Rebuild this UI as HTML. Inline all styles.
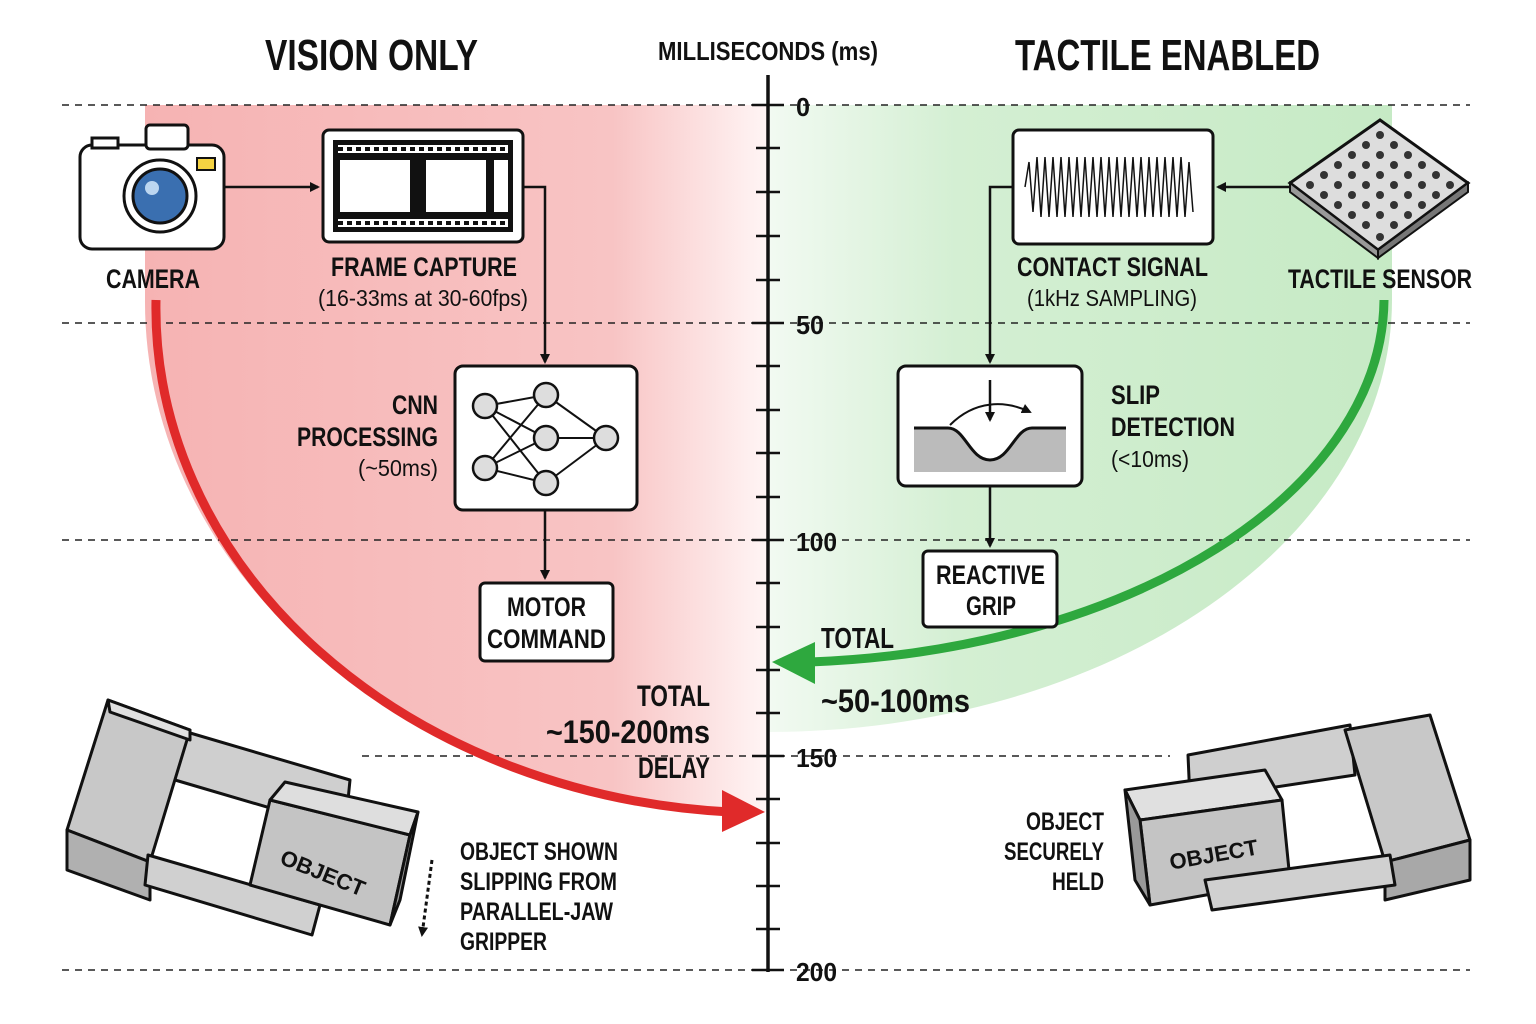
<!DOCTYPE html>
<html><head><meta charset="utf-8"><style>
body{margin:0;background:#fff}
svg{display:block}
text{font-family:"Liberation Sans",sans-serif;font-weight:bold;fill:#111}
.n{font-weight:normal}
</style></head><body>
<svg width="1536" height="1024" viewBox="0 0 1536 1024" xmlns="http://www.w3.org/2000/svg">
<defs>
<linearGradient id="rg" x1="0" x2="1"><stop offset="0" stop-color="#f6b3b3"/><stop offset="0.75" stop-color="#f8c4c4"/><stop offset="1" stop-color="#fff5f5"/></linearGradient>
<linearGradient id="gg" x1="0" x2="1"><stop offset="0" stop-color="#f2faf2"/><stop offset="0.3" stop-color="#d4efd3"/><stop offset="1" stop-color="#c6eac5"/></linearGradient>
<marker id="ah" markerWidth="10" markerHeight="10" refX="8" refY="5" orient="auto" markerUnits="userSpaceOnUse"><path d="M0,0 L10,5 L0,10z" fill="#111"/></marker>
</defs>
<path d="M145,105 H768 V812 A623,510 0 0 1 145,300 Z" fill="url(#rg)"/>
<path d="M768,105 H1392 V300 A624,432 0 0 1 768,732 Z" fill="url(#gg)"/>
<g stroke="#222" stroke-width="1.5" stroke-dasharray="7,6">
<line x1="62" y1="105" x2="1470" y2="105"/>
<line x1="62" y1="323" x2="1470" y2="323"/>
<line x1="62" y1="540" x2="1470" y2="540"/>
<line x1="362" y1="756" x2="1170" y2="756"/>
<line x1="62" y1="970" x2="1470" y2="970"/>
</g>
<line x1="768" y1="75" x2="768" y2="972" stroke="#111" stroke-width="3.5"/>
<g stroke="#111" stroke-width="2.5">
<line x1="752" y1="105" x2="784" y2="105"/><line x1="752" y1="323" x2="784" y2="323"/><line x1="752" y1="540" x2="784" y2="540"/><line x1="752" y1="756" x2="784" y2="756"/><line x1="752" y1="970" x2="784" y2="970"/>
<line x1="756" y1="148" x2="780" y2="148"/><line x1="756" y1="192" x2="780" y2="192"/><line x1="756" y1="236" x2="780" y2="236"/><line x1="756" y1="280" x2="780" y2="280"/>
<line x1="756" y1="366" x2="780" y2="366"/><line x1="756" y1="410" x2="780" y2="410"/><line x1="756" y1="453" x2="780" y2="453"/><line x1="756" y1="497" x2="780" y2="497"/>
<line x1="756" y1="583" x2="780" y2="583"/><line x1="756" y1="627" x2="780" y2="627"/><line x1="756" y1="670" x2="780" y2="670"/><line x1="756" y1="713" x2="780" y2="713"/>
<line x1="756" y1="799" x2="780" y2="799"/><line x1="756" y1="843" x2="780" y2="843"/><line x1="756" y1="886" x2="780" y2="886"/><line x1="756" y1="929" x2="780" y2="929"/>
</g>
<g font-size="26" lengthAdjust="spacingAndGlyphs"><text x="796" y="116" textLength="14" lengthAdjust="spacingAndGlyphs">0</text><text x="796" y="334" textLength="28" lengthAdjust="spacingAndGlyphs">50</text><text x="796" y="551" textLength="41" lengthAdjust="spacingAndGlyphs">100</text><text x="796" y="767" textLength="41" lengthAdjust="spacingAndGlyphs">150</text><text x="796" y="981" textLength="41" lengthAdjust="spacingAndGlyphs">200</text></g>
<text x="658" y="60" font-size="26" textLength="220" lengthAdjust="spacingAndGlyphs">MILLISECONDS (ms)</text>
<text x="265" y="70" font-size="44" textLength="213" lengthAdjust="spacingAndGlyphs">VISION ONLY</text>
<text x="1015" y="70" font-size="44" textLength="305" lengthAdjust="spacingAndGlyphs">TACTILE ENABLED</text>

<path d="M156,300 A612,505 0 0 0 730,812" fill="none" stroke="#e02a2a" stroke-width="9"/>
<path d="M722,790 L765,812 L722,832 Z" fill="#e02a2a"/>
<path d="M1384,300 A612,365 0 0 1 810,662" fill="none" stroke="#2ea83e" stroke-width="9"/>
<path d="M815,642 L772,662 L815,684 Z" fill="#2ea83e"/>

<g stroke="#111" stroke-width="3">
<rect x="80" y="145" width="144" height="104" rx="12" fill="#fff"/>
<rect x="146" y="125" width="42" height="24" rx="4" fill="#fff"/>
<rect x="92" y="138" width="26" height="10" fill="#fff"/>
<circle cx="160" cy="196" r="36" fill="#fff"/>
<circle cx="160" cy="196" r="27" fill="#3a6fb0"/>
<rect x="197" y="158" width="18" height="12" fill="#f5d342" stroke-width="2"/>
</g>
<circle cx="152" cy="188" r="7" fill="#bcd6f0"/>
<text x="106" y="288" font-size="27" textLength="94" lengthAdjust="spacingAndGlyphs">CAMERA</text>
<line x1="224" y1="187" x2="318" y2="187" stroke="#111" stroke-width="2.5" marker-end="url(#ah)"/>

<rect x="323" y="130" width="200" height="112" rx="6" fill="#fff" stroke="#111" stroke-width="3"/>
<rect x="333" y="140" width="180" height="92" fill="#111"/>
<rect x="340" y="160" width="70" height="52" fill="#fff"/><rect x="426" y="160" width="60" height="52" fill="#fff"/><rect x="494" y="160" width="14" height="52" fill="#fff"/>
<g fill="#fff"><rect x="338" y="145" width="170" height="8"/><rect x="338" y="219" width="170" height="8"/></g>
<g stroke="#111" stroke-width="4" stroke-dasharray="5,4"><line x1="338" y1="149" x2="510" y2="149"/><line x1="338" y1="223" x2="510" y2="223"/></g>
<text x="331" y="276" font-size="27" textLength="186" lengthAdjust="spacingAndGlyphs">FRAME CAPTURE</text>
<text x="318" y="306" font-size="23" class="n" textLength="210" lengthAdjust="spacingAndGlyphs">(16-33ms at 30-60fps)</text>
<path d="M523,187 H545 V362" fill="none" stroke="#111" stroke-width="2.5" marker-end="url(#ah)"/>

<rect x="455" y="366" width="182" height="144" rx="8" fill="#fff" stroke="#111" stroke-width="3"/>
<g stroke="#111" stroke-width="2">
<line x1="485" y1="406" x2="546" y2="395"/><line x1="485" y1="406" x2="546" y2="438"/><line x1="485" y1="406" x2="546" y2="483"/>
<line x1="485" y1="468" x2="546" y2="395"/><line x1="485" y1="468" x2="546" y2="438"/><line x1="485" y1="468" x2="546" y2="483"/>
<line x1="546" y1="395" x2="606" y2="438"/><line x1="546" y1="438" x2="606" y2="438"/><line x1="546" y1="483" x2="606" y2="438"/>
</g>
<g fill="#ddd" stroke="#111" stroke-width="2.5"><circle cx="485" cy="406" r="12"/><circle cx="485" cy="468" r="12"/><circle cx="546" cy="395" r="12"/><circle cx="546" cy="438" r="12"/><circle cx="546" cy="483" r="12"/><circle cx="606" cy="438" r="12"/></g>
<text x="392" y="414" font-size="27" textLength="46" lengthAdjust="spacingAndGlyphs">CNN</text><text x="297" y="446" font-size="27" textLength="141" lengthAdjust="spacingAndGlyphs">PROCESSING</text><text x="358" y="476" font-size="23" class="n" textLength="80" lengthAdjust="spacingAndGlyphs">(~50ms)</text>
<line x1="545" y1="510" x2="545" y2="578" stroke="#111" stroke-width="2.5" marker-end="url(#ah)"/>
<rect x="480" y="583" width="133" height="78" rx="5" fill="#fff" stroke="#111" stroke-width="3"/>
<text x="507" y="616" font-size="27" textLength="79" lengthAdjust="spacingAndGlyphs">MOTOR</text><text x="487" y="648" font-size="27" textLength="119" lengthAdjust="spacingAndGlyphs">COMMAND</text>

<text x="637" y="706" font-size="30" textLength="73" lengthAdjust="spacingAndGlyphs">TOTAL</text><text x="546" y="743" font-size="32" textLength="164" lengthAdjust="spacingAndGlyphs">~150-200ms</text><text x="638" y="778" font-size="30" textLength="72" lengthAdjust="spacingAndGlyphs">DELAY</text>

<g stroke="#111" stroke-width="3" stroke-linejoin="round">
<polygon points="180,730 350,780 345,830 175,780" fill="#cfcfcf"/>
<polygon points="67,830 108,700 190,730 150,862" fill="#c8c8c8"/>
<polygon points="108,700 190,730 190,740 110,712" fill="#e0e0e0"/>
<polygon points="67,830 150,862 150,900 67,870" fill="#b0b0b0"/>
<polygon points="148,855 320,905 312,935 145,885" fill="#d0d0d0"/>
<polygon points="270,800 410,835 390,925 250,885" fill="#c4c4c4"/>
<polygon points="270,800 285,782 418,812 410,835" fill="#dedede"/>
<polygon points="410,835 418,812 400,900 390,925" fill="#9c9c9c"/>
</g>
<text x="320" y="880" font-size="22" transform="rotate(22 320 880)" text-anchor="middle">OBJECT</text>
<line x1="432" y1="860" x2="422" y2="935" stroke="#111" stroke-width="3" stroke-dasharray="4,3" marker-end="url(#ah)"/>
<text x="460" y="860" font-size="25" textLength="158" lengthAdjust="spacingAndGlyphs">OBJECT SHOWN</text><text x="460" y="890" font-size="25" textLength="157" lengthAdjust="spacingAndGlyphs">SLIPPING FROM</text><text x="460" y="920" font-size="25" textLength="153" lengthAdjust="spacingAndGlyphs">PARALLEL-JAW</text><text x="460" y="950" font-size="25" textLength="87" lengthAdjust="spacingAndGlyphs">GRIPPER</text>

<rect x="1013" y="130" width="200" height="114" rx="6" fill="#fff" stroke="#111" stroke-width="3"/>
<path d="M1025,187 l4,-25 l4,50 l4,-55 l4,60 l4,-60 l4,60 l4,-60 l4,60 l4,-60 l4,60 l4,-60 l4,60 l4,-60 l4,60 l4,-60 l4,60 l4,-60 l4,60 l4,-60 l4,60 l4,-60 l4,60 l4,-60 l4,60 l4,-60 l4,60 l4,-60 l4,60 l4,-60 l4,60 l4,-60 l4,60 l4,-60 l4,60 l4,-60 l4,60 l4,-60 l4,60 l4,-60 l4,60 l4,-55 l4,50" fill="none" stroke="#111" stroke-width="1.5"/>
<text x="1017" y="276" font-size="27" textLength="191" lengthAdjust="spacingAndGlyphs">CONTACT SIGNAL</text>
<text x="1027" y="306" font-size="23" class="n" textLength="170" lengthAdjust="spacingAndGlyphs">(1kHz SAMPLING)</text>
<line x1="1290" y1="187" x2="1218" y2="187" stroke="#111" stroke-width="2.5" marker-end="url(#ah)"/>
<polygon points="1290,183 1380,120 1468,183 1378,250" fill="#ddd" stroke="#111" stroke-width="3"/>
<polygon points="1290,183 1378,250 1378,258 1290,192" fill="#999" stroke="#111" stroke-width="2"/>
<polygon points="1468,183 1378,250 1378,258 1468,192" fill="#777" stroke="#111" stroke-width="2"/>
<g fill="#333">
<circle cx="1380" cy="135" r="4"/><circle cx="1366" cy="145" r="4"/><circle cx="1394" cy="145" r="4"/><circle cx="1352" cy="155" r="4"/><circle cx="1380" cy="155" r="4"/><circle cx="1408" cy="155" r="4"/><circle cx="1338" cy="165" r="4"/><circle cx="1366" cy="165" r="4"/><circle cx="1394" cy="165" r="4"/><circle cx="1422" cy="165" r="4"/><circle cx="1324" cy="175" r="4"/><circle cx="1352" cy="175" r="4"/><circle cx="1380" cy="175" r="4"/><circle cx="1408" cy="175" r="4"/><circle cx="1436" cy="175" r="4"/><circle cx="1310" cy="185" r="4"/><circle cx="1338" cy="185" r="4"/><circle cx="1366" cy="185" r="4"/><circle cx="1394" cy="185" r="4"/><circle cx="1422" cy="185" r="4"/><circle cx="1450" cy="185" r="4"/><circle cx="1324" cy="195" r="4"/><circle cx="1352" cy="195" r="4"/><circle cx="1380" cy="195" r="4"/><circle cx="1408" cy="195" r="4"/><circle cx="1436" cy="195" r="4"/><circle cx="1338" cy="205" r="4"/><circle cx="1366" cy="205" r="4"/><circle cx="1394" cy="205" r="4"/><circle cx="1422" cy="205" r="4"/><circle cx="1352" cy="215" r="4"/><circle cx="1380" cy="215" r="4"/><circle cx="1408" cy="215" r="4"/><circle cx="1366" cy="225" r="4"/><circle cx="1394" cy="225" r="4"/><circle cx="1380" cy="237" r="4"/>
</g>
<text x="1288" y="288" font-size="27" textLength="184" lengthAdjust="spacingAndGlyphs">TACTILE SENSOR</text>
<path d="M1013,187 H990 V362" fill="none" stroke="#111" stroke-width="2.5" marker-end="url(#ah)"/>

<rect x="898" y="366" width="184" height="120" rx="8" fill="#fff" stroke="#111" stroke-width="3"/>
<path d="M914,428 H948 C965,428 970,460 990,460 C1010,460 1015,428 1032,428 H1066 V472 H914 Z" fill="#bbb"/>
<path d="M914,428 H948 C965,428 970,460 990,460 C1010,460 1015,428 1032,428 H1066" fill="none" stroke="#111" stroke-width="3"/>
<line x1="990" y1="380" x2="990" y2="420" stroke="#111" stroke-width="2.5" marker-end="url(#ah)"/>
<path d="M950,425 C975,400 1005,400 1030,412" fill="none" stroke="#111" stroke-width="2" marker-end="url(#ah)"/>
<text x="1111" y="404" font-size="27" textLength="49" lengthAdjust="spacingAndGlyphs">SLIP</text><text x="1111" y="436" font-size="27" textLength="124" lengthAdjust="spacingAndGlyphs">DETECTION</text><text x="1111" y="467" font-size="23" class="n" textLength="78" lengthAdjust="spacingAndGlyphs">(&lt;10ms)</text>
<line x1="990" y1="486" x2="990" y2="546" stroke="#111" stroke-width="2.5" marker-end="url(#ah)"/>
<rect x="923" y="551" width="134" height="76" rx="5" fill="#fff" stroke="#111" stroke-width="3"/>
<text x="936" y="584" font-size="27" textLength="109" lengthAdjust="spacingAndGlyphs">REACTIVE</text><text x="966" y="615" font-size="27" textLength="50" lengthAdjust="spacingAndGlyphs">GRIP</text>
<text x="821" y="648" font-size="29" textLength="73" lengthAdjust="spacingAndGlyphs">TOTAL</text>
<text x="821" y="712" font-size="32" textLength="149" lengthAdjust="spacingAndGlyphs">~50-100ms</text>

<g stroke="#111" stroke-width="3" stroke-linejoin="round">
<polygon points="1188,755 1350,725 1355,775 1190,800" fill="#cfcfcf"/>
<polygon points="1345,730 1430,715 1470,840 1385,862" fill="#c8c8c8"/>
<polygon points="1385,862 1470,840 1470,880 1385,900" fill="#a8a8a8"/>
<polygon points="1125,790 1265,770 1282,800 1140,820" fill="#e0e0e0"/>
<polygon points="1140,820 1282,800 1290,880 1150,905" fill="#c4c4c4"/>
<polygon points="1125,790 1140,820 1150,905 1135,880" fill="#999"/>
<polygon points="1205,880 1390,855 1395,885 1212,910" fill="#d0d0d0"/>
</g>
<text x="1215" y="862" font-size="22" transform="rotate(-10 1215 862)" text-anchor="middle">OBJECT</text>
<text x="1026" y="830" font-size="25" textLength="78" lengthAdjust="spacingAndGlyphs">OBJECT</text><text x="1004" y="860" font-size="25" textLength="100" lengthAdjust="spacingAndGlyphs">SECURELY</text><text x="1052" y="890" font-size="25" textLength="52" lengthAdjust="spacingAndGlyphs">HELD</text>
</svg>
</body></html>
